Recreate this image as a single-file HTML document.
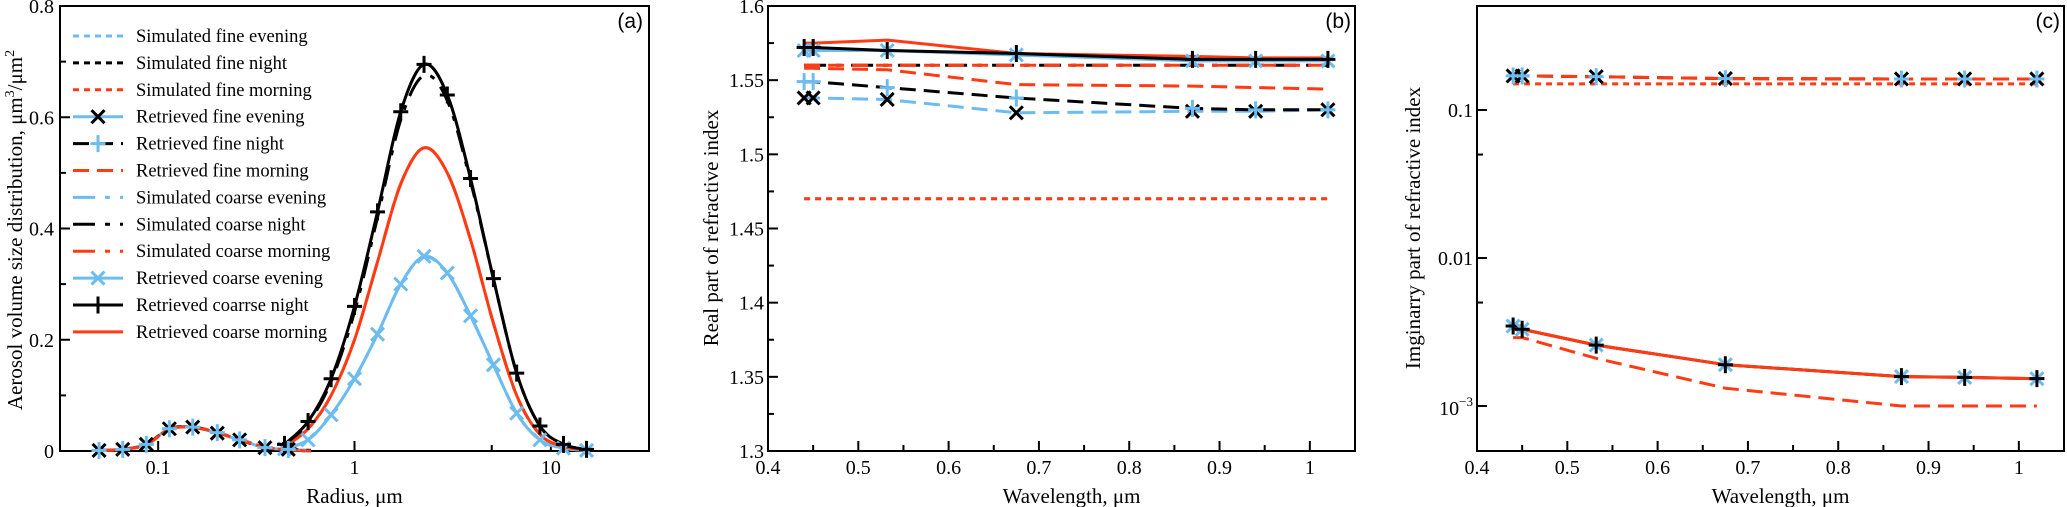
<!DOCTYPE html>
<html><head><meta charset="utf-8"><style>
html,body{margin:0;padding:0;background:#fff;}
svg{display:block;font-family:"Liberation Serif",serif;}
</style></head><body>
<svg id="fig" width="2067" height="507" viewBox="0 0 2067 507" xmlns="http://www.w3.org/2000/svg"></svg>
<script>
// ---------- Panel (a) data ----------
const fineRadius = [0.05,0.066,0.087,0.114,0.15,0.2,0.26,0.35,0.46,0.6];
const fineSimEvening = [0.001,0.003,0.012,0.039,0.043,0.033,0.02,0.007,0.002,0.0];
const fineSimNight   = [0.001,0.003,0.012,0.039,0.043,0.033,0.02,0.007,0.002,0.0];
const fineSimMorning = [0.001,0.003,0.012,0.039,0.043,0.033,0.02,0.007,0.002,0.0];
const fineRetEvening = [0.001,0.003,0.012,0.040,0.043,0.032,0.02,0.006,0.003,0.001];
const fineRetNight   = [0.001,0.003,0.012,0.040,0.043,0.033,0.02,0.006,0.003,0.001];
const fineRetMorning = [0.001,0.003,0.011,0.039,0.042,0.033,0.021,0.007,0.002,0.0];
const coarseRadius = [0.44,0.58,0.76,1.0,1.31,1.72,2.26,2.97,3.9,5.1,6.7,8.8,11.6,15.2];
const coarseSimEvening = [0.004,0.02,0.065,0.13,0.21,0.3,0.348,0.32,0.243,0.155,0.068,0.02,0.005,0.001];
const coarseSimNight   = [0.012,0.05,0.125,0.25,0.42,0.595,0.675,0.63,0.485,0.31,0.14,0.045,0.012,0.003];
const coarseSimMorning = [0.008,0.04,0.1,0.2,0.34,0.48,0.545,0.5,0.38,0.23,0.1,0.03,0.008,0.002];
const coarseRetEvening = [0.004,0.02,0.065,0.13,0.21,0.3,0.35,0.32,0.243,0.155,0.068,0.02,0.005,0.001];
const coarseRetNight   = [0.012,0.053,0.13,0.26,0.43,0.61,0.695,0.64,0.49,0.31,0.14,0.045,0.012,0.003];
const coarseRetMorning = [0.008,0.04,0.1,0.2,0.34,0.48,0.545,0.5,0.38,0.23,0.1,0.03,0.008,0.002];
const aYTicks = [0,0.2,0.4,0.6,0.8];
const aYTickLabels = ["0","0.2","0.4","0.6","0.8"];
const aXTicks = [0.1,1,10];
const aXTickLabels = ["0.1","1","10"];
// ---------- Panel (b) data ----------
const wavelengths = [0.44,0.45,0.532,0.675,0.87,0.94,1.02];
const realRetCoarseMorning = [1.575,1.575,1.577,1.568,1.566,1.565,1.565];
const realRetCoarseNight   = [1.572,1.572,1.570,1.568,1.564,1.564,1.564];
const realRetCoarseEvening = [1.570,1.570,1.570,1.567,1.563,1.563,1.563];
const realSimCoarse        = [1.56,1.56,1.56,1.56,1.56,1.56,1.56];
const realRetFineMorning   = [1.558,1.558,1.557,1.547,1.546,1.545,1.544];
const realRetFineNight     = [1.549,1.549,1.545,1.538,1.531,1.530,1.530];
const realRetFineEvening   = [1.538,1.538,1.537,1.528,1.529,1.529,1.530];
const realSimFine          = [1.47,1.47,1.47,1.47,1.47,1.47,1.47];
const bYTicks = [1.3,1.35,1.4,1.45,1.5,1.55,1.6];
const bYTickLabels = ["1.3","1.35","1.4","1.45","1.5","1.55","1.6"];
const wlTicks = [0.4,0.5,0.6,0.7,0.8,0.9,1.0];
const wlTickLabels = ["0.4","0.5","0.6","0.7","0.8","0.9","1"];
// ---------- Panel (c) data ----------
const imagRetFine  = [0.17,0.17,0.168,0.163,0.162,0.162,0.162];
const imagSimFine  = [0.15,0.15,0.15,0.15,0.15,0.15,0.15];
const imagRetCoarse = [0.00347,0.0033,0.00258,0.0019,0.00158,0.00156,0.00153];
const imagSimCoarse = [0.0029,0.0029,0.0021,0.00132,0.001,0.001,0.001];

const NS="http://www.w3.org/2000/svg";
const svg=document.getElementById('fig');
const BLUE="#6cbcf0", RED="#ff3b14", BLACK="#000";
function el(tag,attrs,parent){const e=document.createElementNS(NS,tag);for(const k in attrs)e.setAttribute(k,attrs[k]);(parent||svg).appendChild(e);return e;}
function txt(s,attrs,parent){const t=el('text',attrs,parent);t.textContent=s;return t;}
function spline(pts){
  if(pts.length<2)return '';
  let d='M'+pts[0][0].toFixed(1)+','+pts[0][1].toFixed(1);
  for(let i=0;i<pts.length-1;i++){
    const p0=pts[Math.max(0,i-1)],p1=pts[i],p2=pts[i+1],p3=pts[Math.min(pts.length-1,i+2)];
    const c1=[p1[0]+(p2[0]-p0[0])/6,p1[1]+(p2[1]-p0[1])/6];
    const c2=[p2[0]-(p3[0]-p1[0])/6,p2[1]-(p3[1]-p1[1])/6];
    d+=' C'+c1[0].toFixed(1)+','+c1[1].toFixed(1)+' '+c2[0].toFixed(1)+','+c2[1].toFixed(1)+' '+p2[0].toFixed(1)+','+p2[1].toFixed(1);
  }
  return d;
}
function poly(pts){return 'M'+pts.map(p=>p[0].toFixed(1)+','+p[1].toFixed(1)).join(' L');}
const DOT="6,5", DASH="16,8", DASHDOT="22,10,5,10";
function line(g,pts,color,dash,smooth,name){
  const p=el('path',{d:smooth?spline(pts):poly(pts),fill:'none',stroke:color,'stroke-width':3,'stroke-dasharray':dash||'none','stroke-linejoin':'round'},g);
  
  
}
function marker(g,x,y,type,color,name){
  const s=6.5;
  const d=type==='x'?`M${x-s},${y-s} L${x+s},${y+s} M${x-s},${y+s} L${x+s},${y-s}`:`M${x-s-1},${y} L${x+s+1},${y} M${x},${y-s-2} L${x},${y+s+2}`;
  const p=el('path',{d:d,stroke:color,'stroke-width':3,fill:'none'},g);
  
  
}
function frame(g,L,R,T,B){el('rect',{x:L,y:T,width:R-L,height:B-T,fill:'none',stroke:'#000','stroke-width':2},g);}

// ================= Panel A =================
(function(){
  const L=60,R=649,T=6,B=451;
  const g=el('g',{});
  const xs=r=>L+(Math.log10(r)+1.5)/3*(R-L);
  const ys=v=>B-v/0.8*(B-T);
  frame(g,L,R,T,B);
  aYTicks.forEach((v,i)=>{el('line',{x1:L,x2:L+10,y1:ys(v),y2:ys(v),stroke:'#000','stroke-width':2},g);
    const t=txt(aYTickLabels[i],{x:L-6,y:ys(v)+7,'text-anchor':'end','font-size':20},g);});
  [0.1,0.3,0.5,0.7].forEach(v=>el('line',{x1:L,x2:L+6,y1:ys(v),y2:ys(v),stroke:'#000','stroke-width':2},g));
  aXTicks.forEach((v,i)=>{el('line',{x1:xs(v),x2:xs(v),y1:B,y2:B-10,stroke:'#000','stroke-width':2},g);
    const t=txt(aXTickLabels[i],{x:xs(v),y:474,'text-anchor':'middle','font-size':20},g);});
  [0.05,0.5,5].forEach(v=>el('line',{x1:xs(v),x2:xs(v),y1:B,y2:B-6,stroke:'#000','stroke-width':2},g));
  let t=txt('Radius, μm',{x:(L+R)/2,y:503,'text-anchor':'middle','font-size':21},g);
  t=el('text',{x:0,y:0,transform:'translate(22,230) rotate(-90)','text-anchor':'middle','font-size':21},g);
  t.innerHTML='Aerosol volume size distribution, μm<tspan dy="-8" font-size="14">3</tspan><tspan dy="8">/μm</tspan><tspan dy="-8" font-size="14">2</tspan>';
  
  t=txt('(a)',{x:643,y:28,'text-anchor':'end','font-size':21,'font-family':'Liberation Sans, sans-serif'},g);
  const P=(xa,ya)=>xa.map((x,i)=>[xs(x),ys(ya[i])]);
  // coarse
  line(g,P(coarseRadius,coarseSimEvening),BLUE,DASHDOT,true,'sim-coarse-evening');
  line(g,P(coarseRadius,coarseRetEvening),BLUE,null,true,'ret-coarse-evening');
  line(g,P(coarseRadius,coarseSimMorning),RED,DASHDOT,true,'sim-coarse-morning');
  line(g,P(coarseRadius,coarseRetMorning),RED,null,true,'ret-coarse-morning');
  line(g,P(coarseRadius,coarseSimNight),BLACK,DASHDOT,true,'sim-coarse-night');
  line(g,P(coarseRadius,coarseRetNight),BLACK,null,true,'ret-coarse-night');
  coarseRadius.forEach((r,i)=>{marker(g,xs(r),ys(coarseRetEvening[i]),'x',BLUE,'coarse-evening-marker');marker(g,xs(r),ys(coarseRetNight[i]),'+',BLACK,'coarse-night-marker');});
  // fine
  line(g,P(fineRadius,fineSimEvening),BLUE,DOT,true,'sim-fine-evening');
  line(g,P(fineRadius,fineSimNight),BLACK,DOT,true,'sim-fine-night');
  line(g,P(fineRadius,fineRetEvening),BLUE,null,true,'ret-fine-evening');
  line(g,P(fineRadius,fineRetNight),BLACK,DASH,true,'ret-fine-night');
  line(g,P(fineRadius,fineSimMorning),RED,DOT,true,'sim-fine-morning');
  line(g,P(fineRadius,fineRetMorning),RED,DASH,true,'ret-fine-morning');
  fineRadius.slice(0,9).forEach((r,i)=>{marker(g,xs(r),ys(fineRetEvening[i]),'x',BLACK,'fine-evening-marker');marker(g,xs(r),ys(fineRetNight[i]),'+',BLUE,'fine-night-marker');});
  // legend
  const legendItems=[['Simulated fine evening',BLUE,DOT,null,null],['Simulated fine night',BLACK,DOT,null,null],['Simulated fine morning',RED,DOT,null,null],
    ['Retrieved fine evening',BLUE,null,'x',BLACK],['Retrieved fine night',BLACK,DASH,'+',BLUE],['Retrieved fine morning',RED,DASH,null,null],
    ['Simulated coarse evening',BLUE,DASHDOT,null,null],['Simulated coarse night',BLACK,DASHDOT,null,null],['Simulated coarse morning',RED,DASHDOT,null,null],
    ['Retrieved coarse evening',BLUE,null,'x',BLUE],['Retrieved coarrse night',BLACK,null,'+',BLACK],['Retrieved coarse morning',RED,null,null,null]];
  const lg=el('g',{},g);
  legendItems.forEach((it,i)=>{
    const y=36+i*26.9;
    const e=el('g',{},lg);
    el('line',{x1:73,x2:123,y1:y,y2:y,stroke:it[1],'stroke-width':3,'stroke-dasharray':it[2]||'none'},e);
    if(it[3])marker(e,98,y,it[3],it[4],'legend-marker');
    txt(it[0],{x:136,y:y+6,'font-size':18.5},e);
  });
})();

// ================= Panel B =================
(function(){
  const L=768,R=1355,T=6,B=451;
  const g=el('g',{});
  const xs=w=>L+(w-0.4)/0.65*(R-L);
  const ys=v=>B-(v-1.3)/0.3*(B-T);
  frame(g,L,R,T,B);
  bYTicks.forEach((v,i)=>{el('line',{x1:L,x2:L+10,y1:ys(v),y2:ys(v),stroke:'#000','stroke-width':2},g);
    const t=txt(bYTickLabels[i],{x:L-4,y:ys(v)+7,'text-anchor':'end','font-size':20},g);
    if(i<bYTicks.length-1)el('line',{x1:L,x2:L+6,y1:ys(v+0.025),y2:ys(v+0.025),stroke:'#000','stroke-width':2},g);});
  wlTicks.forEach((v,i)=>{el('line',{x1:xs(v),x2:xs(v),y1:B,y2:B-10,stroke:'#000','stroke-width':2},g);
    el('line',{x1:xs(v+0.05),x2:xs(v+0.05),y1:B,y2:B-6,stroke:'#000','stroke-width':2},g);
    const t=txt(wlTickLabels[i],{x:xs(v),y:474,'text-anchor':'middle','font-size':20},g);});
  let t=txt('Wavelength, μm',{x:(L+R)/2+10,y:503,'text-anchor':'middle','font-size':21},g);
  t=txt('Real part of refractive index',{x:0,y:0,transform:'translate(718,228) rotate(-90)','text-anchor':'middle','font-size':21},g);
  t=txt('(b)',{x:1351,y:28,'text-anchor':'end','font-size':21,'font-family':'Liberation Sans, sans-serif'},g);
  const P=ya=>wavelengths.map((w,i)=>[xs(w),ys(ya[i])]);
  line(g,P(realSimFine),BLUE,DOT,false,'sim-fine-evening');
  line(g,P(realSimFine),RED,DOT,false,'sim-fine-morning');
  line(g,P(realSimCoarse),BLACK,DASHDOT,false,'sim-coarse-night');
  line(g,P(realSimCoarse),RED,DASH,false,'sim-coarse-morning');
  line(g,P(realRetFineEvening),BLUE,DASH,false,'ret-fine-evening');
  line(g,P(realRetFineNight),BLACK,DASH,false,'ret-fine-night');
  line(g,P(realRetFineMorning),RED,DASH,false,'ret-fine-morning');
  line(g,P(realRetCoarseEvening),BLUE,null,false,'ret-coarse-evening');
  line(g,P(realRetCoarseMorning),RED,null,false,'ret-coarse-morning');
  line(g,P(realRetCoarseNight),BLACK,null,false,'ret-coarse-night');
  wavelengths.forEach((w,i)=>{
    marker(g,xs(w),ys(realRetCoarseEvening[i]),'x',BLUE,'coarse-evening-marker');
    marker(g,xs(w),ys(realRetCoarseNight[i]),'+',BLACK,'coarse-night-marker');
    marker(g,xs(w),ys(realRetFineEvening[i]),'x',BLACK,'fine-evening-marker');
    marker(g,xs(w),ys(realRetFineNight[i]),'+',BLUE,'fine-night-marker');
  });
})();

// ================= Panel C =================
(function(){
  const L=1477,R=2064,T=6,B=451;
  const g=el('g',{});
  const xs=w=>L+(w-0.4)/0.65*(R-L);
  const ys=v=>110+(-1-Math.log10(v))*148;
  frame(g,L,R,T,B);
  [[0.1,'0.1'],[0.01,'0.01']].forEach(([v,l])=>{el('line',{x1:L,x2:L+10,y1:ys(v),y2:ys(v),stroke:'#000','stroke-width':2},g);
    const t=txt(l,{x:L-4,y:ys(v)+7,'text-anchor':'end','font-size':20},g);});
  el('line',{x1:L,x2:L+10,y1:ys(0.001),y2:ys(0.001),stroke:'#000','stroke-width':2},g);
  let t=el('text',{x:L-4,y:ys(0.001)+9,'text-anchor':'end','font-size':20},g);t.innerHTML='10<tspan dy="-9" font-size="13">−3</tspan>';
  [0.05,0.005].forEach(v=>el('line',{x1:L,x2:L+6,y1:ys(v),y2:ys(v),stroke:'#000','stroke-width':2},g));
  wlTicks.forEach((v,i)=>{el('line',{x1:xs(v),x2:xs(v),y1:B,y2:B-10,stroke:'#000','stroke-width':2},g);
    el('line',{x1:xs(v+0.05),x2:xs(v+0.05),y1:B,y2:B-6,stroke:'#000','stroke-width':2},g);
    const tt=txt(wlTickLabels[i],{x:xs(v),y:474,'text-anchor':'middle','font-size':20},g);});
  t=txt('Wavelength, μm',{x:(L+R)/2+10,y:503,'text-anchor':'middle','font-size':21},g);
  t=txt('Imginarry part of refractive index',{x:0,y:0,transform:'translate(1420,228) rotate(-90)','text-anchor':'middle','font-size':21},g);
  t=txt('(c)',{x:2060,y:28,'text-anchor':'end','font-size':21,'font-family':'Liberation Sans, sans-serif'},g);
  const P=ya=>wavelengths.map((w,i)=>[xs(w),ys(ya[i])]);
  line(g,P(imagSimFine),RED,DOT,false,'sim-fine-morning');
  line(g,P(imagRetFine),BLACK,DASH,false,'ret-fine-night');
  line(g,P(imagRetFine),RED,DASH,false,'ret-fine-morning');
  line(g,P(imagSimCoarse),RED,DASH,false,'sim-coarse-morning');
  line(g,P(imagRetCoarse),BLACK,null,false,'ret-coarse-night');
  line(g,P(imagRetCoarse),RED,null,false,'ret-coarse-morning');
  wavelengths.forEach((w,i)=>{
    marker(g,xs(w),ys(imagRetFine[i]),'x',BLACK,'fine-evening-marker');
    marker(g,xs(w),ys(imagRetFine[i]),'+',BLUE,'fine-night-marker');
    marker(g,xs(w),ys(imagRetCoarse[i]),'x',BLUE,'coarse-evening-marker');
    marker(g,xs(w),ys(imagRetCoarse[i]),'+',BLACK,'coarse-night-marker');
  });
})();
</script>
</body></html>
